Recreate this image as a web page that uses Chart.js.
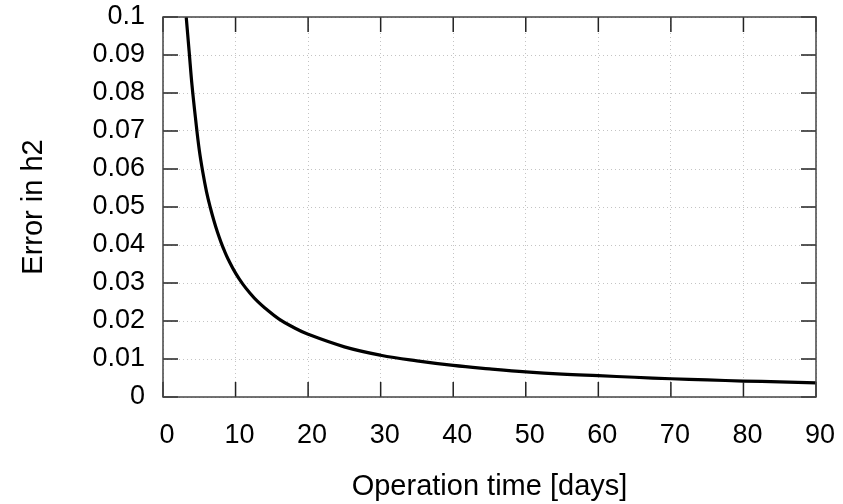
<!DOCTYPE html>
<html lang="en">
<head>
    <meta charset="UTF-8">
    <title>Error in h2 vs operation time</title>
    <style>
        html, body { margin: 0; padding: 0; background: #fff; }
        #wrap { width: 843px; height: 504px; }
    </style>
</head>
<body>
    <div id="wrap">
        <canvas id="graficaError" width="843" height="504"></canvas>
    </div>

    <script src="https://cdn.jsdelivr.net/npm/chart.js"></script>
    <script>
        // datos
        const dias = [3.2, 3.6, 4, 4.5, 5, 5.5, 6, 6.5, 7, 7.5, 8, 8.5, 9, 10, 11, 12, 13, 14, 16, 18, 20, 25, 30, 35, 40, 45, 50, 55, 60, 65, 70, 75, 80, 85, 90];
        const errorH2 = [0.100, 0.091, 0.082, 0.073, 0.065, 0.059, 0.054, 0.050, 0.0465, 0.0434, 0.0407, 0.0383, 0.0362, 0.0326, 0.0297, 0.0273, 0.0252, 0.0235, 0.0205, 0.0183, 0.0165, 0.0132, 0.0110, 0.0095, 0.0083, 0.0074, 0.0066, 0.0060, 0.0056, 0.0052, 0.0048, 0.0045, 0.0042, 0.0040, 0.0037];
        const xTicks = [0, 10, 20, 30, 40, 50, 60, 70, 80, 90];
        const yTicks = [0, 0.01, 0.02, 0.03, 0.04, 0.05, 0.06, 0.07, 0.08, 0.09, 0.1];

        const fuente = 'Liberation Sans, Arial, Helvetica, sans-serif';

        // marco y marcas hacia dentro, estilo gnuplot
        const marco = {
            id: 'marco',
            afterDraw(chart) {
                const {ctx, chartArea: a, scales: {x, y}} = chart;
                const t = 15;
                ctx.save();
                ctx.strokeStyle = '#222';
                ctx.lineWidth = 1.5;
                ctx.beginPath();
                xTicks.forEach(v => {
                    const px = x.getPixelForValue(v);
                    ctx.moveTo(px, a.bottom); ctx.lineTo(px, a.bottom - t);
                    ctx.moveTo(px, a.top); ctx.lineTo(px, a.top + t);
                });
                yTicks.forEach(v => {
                    const py = y.getPixelForValue(v);
                    ctx.moveTo(a.left, py); ctx.lineTo(a.left + t, py);
                    ctx.moveTo(a.right, py); ctx.lineTo(a.right - t, py);
                });
                ctx.stroke();
                ctx.strokeStyle = '#444';
                ctx.lineWidth = 1.5;
                ctx.strokeRect(a.left, a.top, a.right - a.left, a.bottom - a.top);
                ctx.restore();
            }
        };

        const ctx = document.getElementById('graficaError').getContext('2d');
        new Chart(ctx, {
            type: 'scatter',
            data: {
                datasets: [{
                    data: dias.map((d, i) => ({x: d, y: errorH2[i]})),
                    showLine: true,
                    borderColor: '#000',
                    borderWidth: 3.2,
                    pointRadius: 0,
                    tension: 0.4,
                    fill: false
                }]
            },
            options: {
                responsive: false,
                animation: false,
                layout: { padding: { left: 0, right: 27, top: 17, bottom: 0 } },
                plugins: {
                    legend: { display: false },
                    tooltip: { enabled: false }
                },
                scales: {
                    x: {
                        type: 'linear',
                        min: 0, max: 90,
                        afterBuildTicks: s => { s.ticks = xTicks.map(v => ({value: v})); },
                        afterFit: s => { s.height = 107; s.paddingLeft = 0; s.paddingRight = 0; },
                        grid: { color: '#c4c4c4', lineWidth: 1, drawTicks: false },
                        border: { display: false, dash: [1, 3] },
                        ticks: {
                            color: '#000',
                            padding: 22,
                            labelOffset: 4,
                            maxRotation: 0,
                            font: { family: fuente, size: 27 }
                        },
                        title: {
                            display: true,
                            text: 'Operation time [days]',
                            color: '#000',
                            padding: { top: 0, bottom: 0 },
                            font: { family: fuente, size: 29 }
                        }
                    },
                    y: {
                        type: 'linear',
                        min: 0, max: 0.1,
                        afterBuildTicks: s => { s.ticks = yTicks.map(v => ({value: v})); },
                        afterFit: s => { s.width = 163; s.paddingTop = 0; s.paddingBottom = 0; },
                        grid: { color: '#c4c4c4', lineWidth: 1, drawTicks: false },
                        border: { display: false, dash: [1, 3] },
                        ticks: {
                            color: '#000',
                            padding: 18,
                            font: { family: fuente, size: 27 },
                            callback: v => String(+v.toFixed(2))
                        },
                        title: {
                            display: true,
                            text: 'Error in h2',
                            color: '#000',
                            padding: { top: 17, bottom: 0 },
                            font: { family: fuente, size: 29 }
                        }
                    }
                }
            },
            plugins: [marco]
        });
    </script>
</body>
</html>
